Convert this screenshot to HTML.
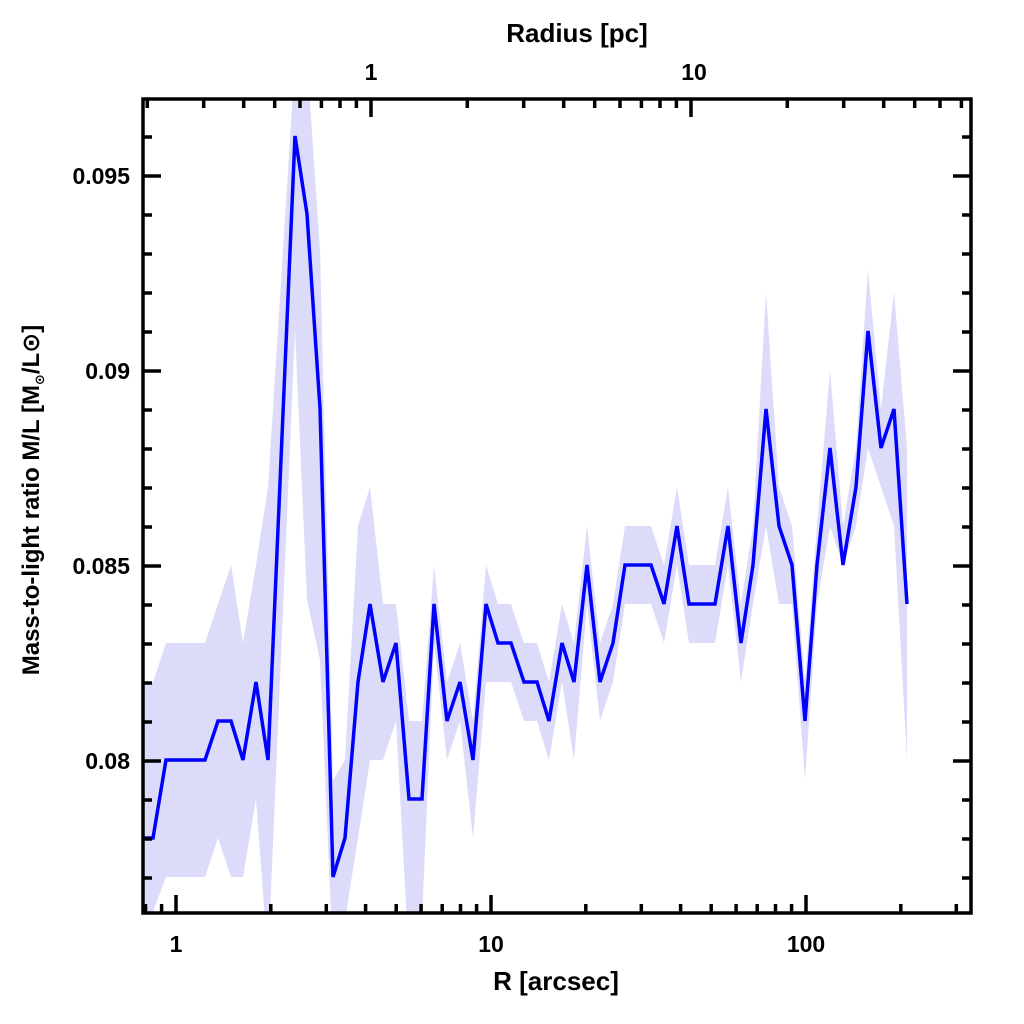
<!DOCTYPE html>
<html><head><style>html,body{margin:0;padding:0;background:#fff}svg{display:block}text{font-family:"Liberation Sans","DejaVu Sans",sans-serif;font-weight:bold;fill:#000}</style></head>
<body>
<svg width="1024" height="1024" viewBox="0 0 1024 1024" xmlns="http://www.w3.org/2000/svg">
<defs><clipPath id="c"><rect x="143" y="99" width="828" height="814"/></clipPath></defs>
<g clip-path="url(#c)">
<polygon fill="#dcdcfa" points="143,682 153,682 166,643 205,643 218,604 231,565 243,643 256,565 268,487 295,60 307,60 320,250 333,780 345,760 358,526 370,487 383,604 396,604 409,721 422,721 434,565 447,682 460,643 473,721 486,565 498,604 511,604 524,643 537,643 549,682 562,604 574,643 587,526 600,643 613,604 625,526 651,526 664,565 677,487 689,565 715,565 728,487 741,604 753,526 766,292 779,487 792,526 805,682 817,526 830,370 843,526 856,448 868,270 881,409 894,292 907,448 907,760 894,526 881,487 868,448 856,526 843,565 830,526 817,604 805,780 792,604 779,604 766,526 753,604 741,682 728,565 715,643 689,643 677,565 664,643 651,604 625,604 613,682 600,721 587,604 574,760 562,682 549,760 537,721 524,721 511,682 498,682 486,682 473,838 460,721 447,760 434,643 422,920 409,960 396,721 383,760 370,760 358,838 345,920 333,960 320,660 307,600 295,330 268,960 256,799 243,877 231,877 218,838 205,877 166,877 153,912 143,912"/>
<polyline fill="none" stroke="#0000ff" stroke-width="3.5" stroke-linejoin="miter" points="143,838 153,838 166,760 205,760 218,721 231,721 243,760 256,682 268,760 295,136 307,214 320,408 333,877 345,838 358,682 370,604 383,682 396,643 409,799 422,799 434,604 447,721 460,682 473,760 486,604 498,643 511,643 524,682 537,682 549,721 562,643 574,682 587,565 600,682 613,643 625,565 651,565 664,604 677,526 689,604 715,604 728,526 741,643 753,565 766,409 779,526 792,565 805,721 817,565 830,448 843,565 856,487 868,331 881,448 894,409 907,604"/>
</g>
<rect x="143" y="99" width="828" height="814" fill="none" stroke="#000" stroke-width="3.5"/>
<g stroke="#000" stroke-width="3.5">
<!-- y minor left/right -->
<path d="M143,878h9M143,839h9M143,800h9M143,722h9M143,683h9M143,644h9M143,605h9M143,527h9M143,488h9M143,449h9M143,410h9M143,332h9M143,293h9M143,254h9M143,215h9M143,137h9"/>
<path d="M143,761h18M143,566h18M143,371h18M143,176h18"/>
<path d="M971,878h-9M971,839h-9M971,800h-9M971,722h-9M971,683h-9M971,644h-9M971,605h-9M971,527h-9M971,488h-9M971,449h-9M971,410h-9M971,332h-9M971,293h-9M971,254h-9M971,215h-9M971,137h-9"/>
<path d="M971,761h-18M971,566h-18M971,371h-18M971,176h-18"/>
<!-- bottom -->
<path d="M145.5,913v-9M161.6,913v-9M270.8,913v-9M326.3,913v-9M365.6,913v-9M396.2,913v-9M421.1,913v-9M442.2,913v-9M460.5,913v-9M476.6,913v-9M585.8,913v-9M641.3,913v-9M680.6,913v-9M711.2,913v-9M736.1,913v-9M757.2,913v-9M775.5,913v-9M791.6,913v-9M900.8,913v-9M956.3,913v-9"/>
<path d="M176,913v-18M491,913v-18M806,913v-18"/>
<!-- top -->
<path d="M147.3,99v9M203.7,99v9M243.7,99v9M274.7,99v9M300,99v9M321.4,99v9M340,99v9M356.4,99v9M467.3,99v9M523.7,99v9M563.7,99v9M594.7,99v9M620,99v9M641.4,99v9M660,99v9M676.4,99v9M787.3,99v9M843.7,99v9M883.7,99v9M914.7,99v9M940,99v9M961.4,99v9"/>
<path d="M371,99v18M691,99v18"/>
</g>
<g font-size="23" text-anchor="end">
<text x="130" y="184">0.095</text><text x="130" y="379">0.09</text><text x="130" y="574">0.085</text><text x="130" y="769">0.08</text>
</g>
<g font-size="23" text-anchor="middle">
<text x="176" y="952">1</text><text x="491" y="952">10</text><text x="806" y="952">100</text>
<text x="371" y="80">1</text><text x="694" y="80">10</text>
<text x="556" y="990" font-size="26">R [arcsec]</text>
<text x="577" y="42" font-size="26">Radius [pc]</text>
<text transform="translate(39,500) rotate(-90)" font-size="24">Mass-to-light ratio M/L [M<tspan font-size="13" dy="5">⊙</tspan><tspan dy="-5">/L⊙]</tspan></text>
</g>
</svg>
</body></html>
